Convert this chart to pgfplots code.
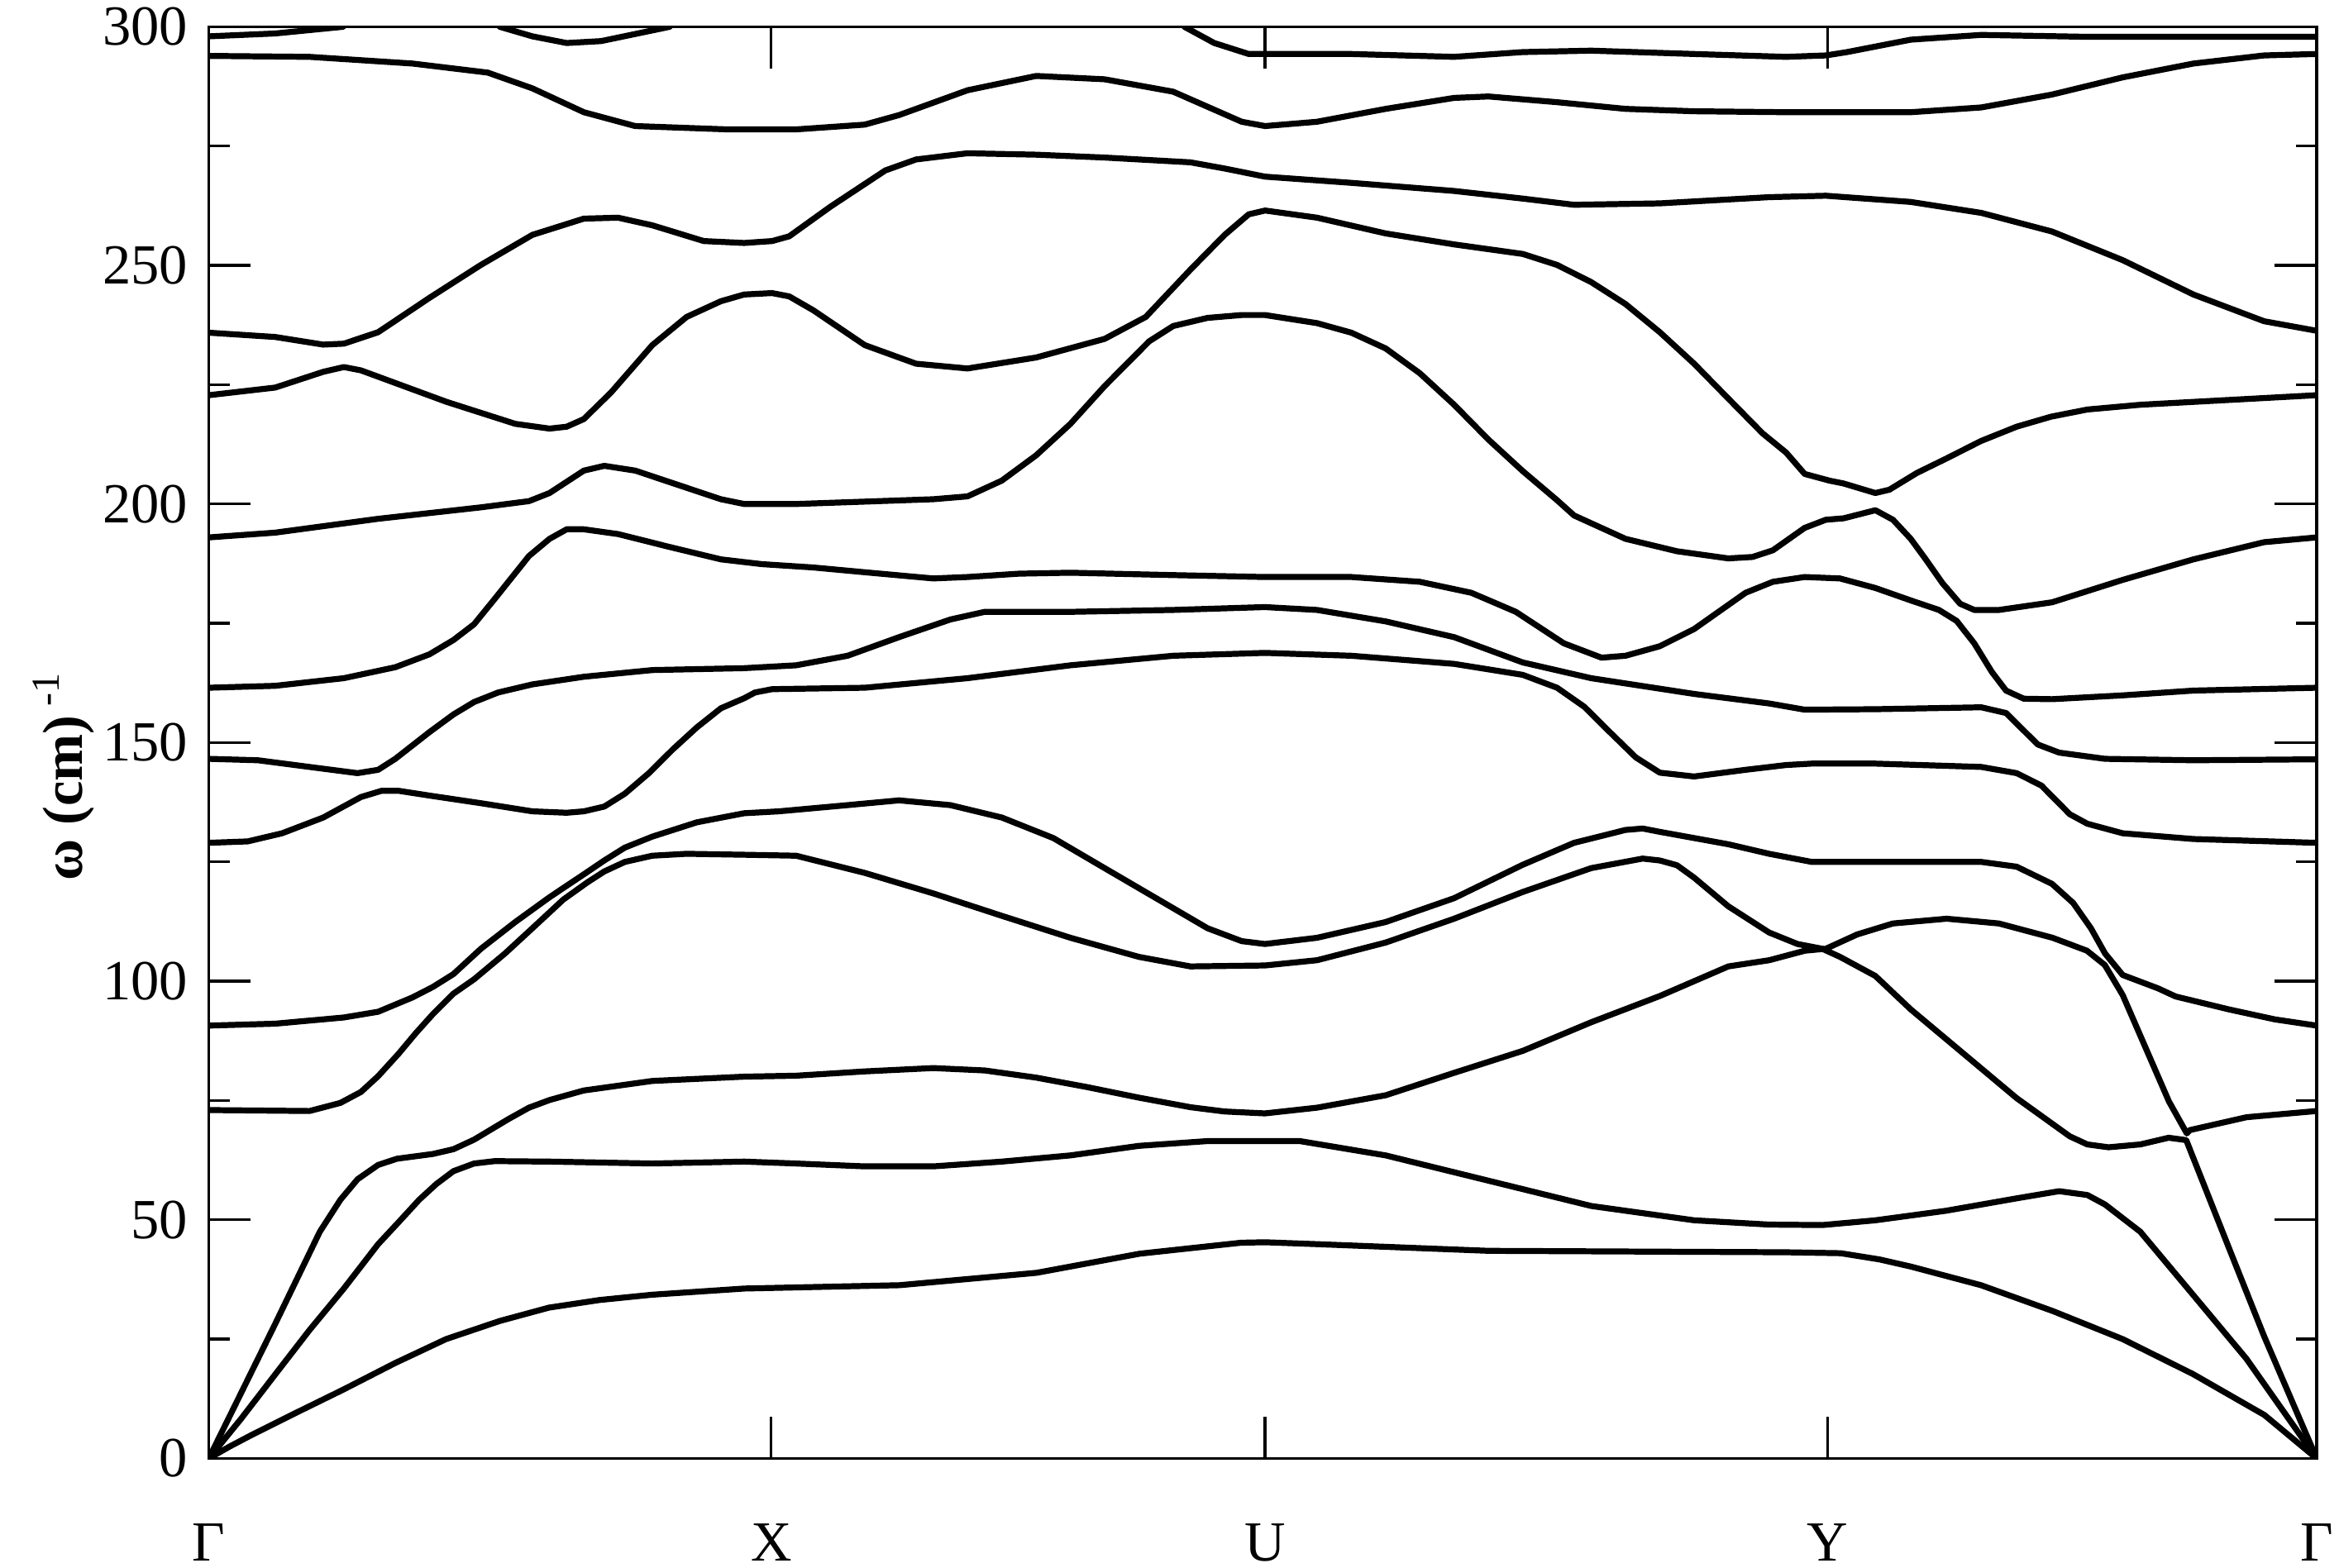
\documentclass[border=0pt]{standalone}
\usepackage{fontspec}
\setmainfont{Liberation Serif}
\usepackage{pgfplots}
\pgfplotsset{compat=1.18}
\begin{document}
\begin{tikzpicture}
\begin{axis}[name=ax,
  scale only axis, width=353.25pt, height=240pt,
  xmin=0, xmax=1413, ymin=0, ymax=300,
  axis line style={line width=0.45pt},
  xtick={0,377,708,1085,1413}, xticklabels={Γ,X,U,Y,Γ},
  ytick={0,50,...,300}, minor y tick num=1,
  tick align=inside, major tick length=7pt, minor tick length=3.5pt,
  every tick/.style={black, line width=0.45pt},
  /pgf/number format/assume math mode=true,
  tick label style={font=\fontsize{9.5}{11}\selectfont},
  xticklabel style={yshift=-7.5pt},
  ylabel={\textbf{ω (cm)}\,\textsuperscript{-1}},
  every axis y label/.style={at={(axis description cs:-0.069,0.477)}, anchor=center, rotate=90, font=\fontsize{9.5}{11}\selectfont},
  cycle list={{black, solid, mark=none}},
  every axis plot post/.append style={black, solid, line width=1pt, mark=none, line join=round, line cap=round},
]
% A
\addplot coordinates {(0,0) (14,2.5) (28,4.8) (60,9.8) (90,14.4) (125,20) (159,25) (195,28.8) (228,31.6) (262,33.2) (297,34.3) (359,35.6) (463,36.3) (555,38.9) (624,42.9) (692,45.2) (708,45.3) (743,44.9) (858,43.5) (1057,43.2) (1094,43) (1120,41.7) (1141,40.2) (1188,36.3) (1236,30.9) (1283,25) (1330,17.7) (1378,9.1) (1413,0)};
% B + D
\addplot coordinates {(0,0) (44.5,28.2) (74.4,47.5) (88.2,54.2) (99.7,58.5) (113.5,61.5) (126.1,62.8) (150.2,63.8) (164,64.8) (177.8,66.8) (200.8,71.1) (214.6,73.5) (228.4,75.1) (251.3,77.1) (297.3,79.1) (358.9,80.0) (393.7,80.2) (439.7,81.1) (485.6,81.8) (520.1,81.3) (554.6,79.8) (589,77.8) (623.5,75.6) (658,73.6) (680.9,72.7) (708,72.3) (742.9,73.5) (788.9,76.1) (834.8,80.8) (880.8,85.4) (926.7,91.4) (972.7,96.9) (1018.6,103.1) (1046,104.4) (1070,106.4) (1084,106.8) (1105,109.8) (1129,112.1) (1165,113.1) (1200,112.1) (1236,109.1) (1259,106.4) (1271,103.4) (1283,97.1) (1314,74.8) (1326,68.1) (1328,68.8) (1366,71.5) (1413,72.8)};
% C
\addplot coordinates {(0,0) (21.6,8.3) (44.5,17.6) (67.5,26.9) (90.5,35.6) (113.5,44.9) (127.2,49.5) (141,54.2) (152.5,57.5) (164,60.2) (177.8,61.8) (191.6,62.3) (228.4,62.2) (297.3,61.8) (358.9,62.2) (393.7,61.8) (439.7,61.2) (485.6,61.2) (531.6,62.2) (577.6,63.5) (623.5,65.5) (669.5,66.5) (708,66.5) (731.4,66.5) (788.9,63.5) (857.8,58.2) (926.7,52.9) (995.7,49.9) (1046,49.0) (1081.6,48.9) (1117.2,49.9) (1164.6,51.9) (1211.9,54.5) (1240.4,56.0) (1259.3,55.2) (1271.2,53.2) (1294.8,47.5) (1330.4,34.2) (1365.9,20.9) (1413,0)};
% H + E
\addplot coordinates {(0,73) (67.5,72.8) (88.2,74.5) (102,76.8) (113.5,80.1) (127.2,84.8) (138.7,89.1) (150.2,93.1) (164,97.4) (177.8,100.4) (198.5,105.8) (216.9,111.1) (237.6,117.1) (253.7,120.7) (265.1,123.0) (278.9,125.0) (297.3,126.3) (320.3,126.7) (358.9,126.5) (393.7,126.3) (439.7,122.7) (485.6,118.4) (531.6,113.7) (577.6,109.1) (623.5,105.1) (658,103.1) (708,103.3) (742.9,104.4) (788.9,108.1) (834.8,113.1) (880.8,118.7) (926.7,123.7) (961.2,125.7) (972.7,125.3) (984.2,124.3) (995.7,121.7) (1018.6,115.7) (1046,110.2) (1065,107.8) (1081.6,106.8) (1093.5,105.1) (1117.2,101.1) (1140.9,94.1) (1176.4,84.8) (1211.9,75.5) (1247.5,67.5) (1259.3,65.8) (1273.5,65.2) (1294.8,65.8) (1313.8,67.2) (1325.6,66.7) (1354.1,44.2) (1377.8,25.6) (1413,0)};
% G
\addplot coordinates {(0,90.7) (44.5,91.1) (90.5,92.4) (113.5,93.6) (136.5,96.6) (150.2,98.8) (164,101.5) (182.4,106.8) (205.4,112.4) (228.4,117.6) (251.4,122.4) (265.1,125.3) (278.9,128.0) (297.3,130.3) (327.2,133.3) (358.9,135.2) (382.2,135.6) (428.2,136.9) (462.7,137.9) (497.1,136.9) (531.6,134.3) (566.1,130.0) (600.5,123.7) (635,117.4) (669.5,111.1) (692.4,108.4) (708,107.8) (742.9,109.1) (788.9,112.4) (834.8,117.4) (880.8,124.4) (915.2,129.0) (949.7,131.7) (961.2,132.0) (972.7,131.3) (1018.6,128.7) (1046,126.7) (1074.5,125.0) (1117.2,125.0) (1188.2,125.0) (1211.9,124.0) (1235.6,120.4) (1249.8,116.4) (1261.7,111.1) (1271.2,105.8) (1283,101.3) (1306.7,98.5) (1318.5,96.8) (1354.1,94.1) (1385,92) (1413,90.7)};
% I
\addplot coordinates {(0,129) (26.1,129.3) (49.1,131.0) (76.7,134.3) (102,138.6) (115.8,139.9) (127.2,139.9) (147.9,138.9) (182.4,137.3) (216.9,135.6) (239.9,135.3) (251.4,135.6) (265.1,136.6) (278.9,139.3) (295,143.6) (311.1,148.6) (327.2,153.2) (343.3,157.2) (358.9,159.3) (366.1,160.5) (377.6,161.2) (439.7,161.5) (508.6,163.5) (577.6,166.2) (646.5,168.2) (708,168.8) (765.9,168.2) (834.8,166.5) (880.8,164.2) (903.8,161.5) (922.1,157.5) (938.2,152.5) (956.6,146.9) (972.7,143.7) (995.7,142.9) (1030.2,144.3) (1057.3,145.3) (1074.5,145.6) (1117.2,145.6) (1188.2,144.9) (1211.9,143.6) (1228.5,141.0) (1247.5,135.0) (1259.3,133.0) (1283,131.0) (1330.4,129.8) (1413,129.0)};
% J
\addplot coordinates {(0,146.6) (33,146.3) (67.5,144.9) (99.7,143.6) (113.5,144.3) (125,146.6) (147.9,152.2) (164,155.9) (177.8,158.5) (193.9,160.5) (216.9,162.2) (251.4,163.8) (297.3,165.2) (358.9,165.6) (393.7,166.2) (428.2,168.2) (462.7,172.1) (497.1,175.8) (520.1,177.4) (577.6,177.4) (646.5,177.8) (708,178.4) (742.9,177.8) (788.9,175.4) (834.8,172.1) (880.8,166.8) (926.7,163.5) (995.7,160.2) (1046,158.2) (1069.8,156.9) (1117.2,157.0) (1188.2,157.4) (1204.8,156.2) (1226.1,149.6) (1240.4,147.9) (1271.2,146.6) (1330.4,146.3) (1413,146.5)};
% K
\addplot coordinates {(0,161.5) (44.5,161.9) (90.5,163.5) (125,165.8) (147.9,168.5) (164,171.5) (177.8,174.8) (191.6,180.1) (214.6,189.1) (228.4,192.7) (239.9,194.7) (251.4,194.7) (274.3,193.7) (308.8,191.0) (343.3,188.4) (370.7,187.4) (405.2,186.7) (439.7,185.7) (485.6,184.4) (508.6,184.7) (543.1,185.4) (577.6,185.6) (646.5,185.1) (708,184.7) (765.9,184.7) (811.8,183.7) (846.3,181.4) (876.2,177.4) (908.4,170.8) (933.6,167.8) (949.7,168.2) (972.7,170.2) (995.7,173.8) (1030.2,181.4) (1048.5,183.7) (1069.8,184.7) (1093.5,184.4) (1117.2,182.4) (1140.9,179.8) (1159.8,177.8) (1171.7,175.5) (1183.5,170.8) (1195.3,164.8) (1204.8,160.9) (1216.7,159.2) (1235.6,159.1) (1283,159.9) (1330.4,160.9) (1413,161.5)};
% L
\addplot coordinates {(0,193.0) (44.5,194.0) (113.5,196.9) (182.4,199.3) (214.6,200.6) (228.4,202.3) (251.4,207.0) (265.1,208.0) (285.8,207.0) (343.3,201.0) (358.9,200.0) (393.7,200.0) (439.7,200.5) (485.6,201.0) (508.6,201.6) (531.6,204.9) (554.6,210.2) (577.6,216.8) (600.5,224.7) (630.4,234.1) (646.5,237.3) (669.5,239.0) (692.4,239.6) (708,239.6) (742.9,237.9) (765.9,235.9) (788.9,232.6) (811.8,227.4) (834.8,220.8) (857.8,213.5) (880.8,206.9) (903.8,200.8) (915.2,197.6) (949.7,192.7) (984.2,190.1) (1018.6,188.6) (1034.8,188.9) (1048.5,190.3) (1069.8,195.0) (1084,196.7) (1095.9,197.0) (1117.2,198.7) (1129,196.7) (1140.9,192.7) (1150.3,188.7) (1162.2,183.4) (1174,179.1) (1183.5,177.8) (1200.1,177.8) (1235.6,179.4) (1283,184.1) (1330.4,188.4) (1377.8,192.0) (1413,193.0)};
% O
\addplot coordinates {(0,222.8) (44.5,224.4) (76.7,227.7) (90.5,228.7) (102,228.0) (159.4,221.4) (205.4,216.8) (228.4,215.8) (239.9,216.2) (251.4,217.8) (269.7,223.4) (297.3,233.3) (320.3,239.2) (343.3,242.5) (358.9,243.9) (377.6,244.2) (389.1,243.5) (405.2,240.6) (439.7,233.3) (474.1,229.4) (508.6,228.4) (554.6,230.7) (600.5,234.6) (628.1,239.2) (658,249.1) (681,256.4) (697.1,260.7) (708.1,261.5) (742.9,260.0) (788.9,256.7) (834.8,254.4) (880.8,252.4) (903.8,250.1) (926.7,246.5) (949.7,241.9) (972.7,236.0) (995.7,229.4) (1018.6,222.1) (1041.6,214.8) (1057.3,210.8) (1069.8,206.3) (1086.4,204.9) (1095.9,204.3) (1117.2,202.3) (1126.6,203.0) (1145,206.5) (1164.6,209.5) (1188,213.2) (1211.9,216.2) (1235,218.3) (1259.3,219.8) (1295,220.8) (1330.4,221.4) (1413,222.8)};
% N
\addplot coordinates {(0,235.9) (44.5,235.0) (76.7,233.4) (90.5,233.6) (113.5,236.0) (147.9,243.2) (182.4,250.1) (216.9,256.4) (251.4,259.8) (274.3,260.0) (297.3,258.4) (331.8,255.1) (358.9,254.7) (377.6,255.1) (389.1,256.1) (416.7,262.3) (453.5,269.9) (474.1,272.2) (508.6,273.5) (554.6,273.2) (600.5,272.6) (658,271.6) (681,270.3) (708,268.6) (765.9,267.3) (834.8,265.6) (880.8,264.0) (915.2,262.7) (972.7,263.0) (1046,264.3) (1084,264.6) (1140.9,263.3) (1188.2,261.0) (1235.6,257.1) (1283,251.1) (1330.4,243.9) (1377.8,238.3) (1413,236.3)};
% M
\addplot coordinates {(0,293.9) (67.5,293.7) (136.5,292.3) (187,290.4) (216.9,287.1) (251.4,282.1) (285.8,279.2) (347.75,278.5) (393.7,278.5) (439.7,279.5) (462.7,281.5) (508.6,286.7) (554.6,289.7) (600.5,289.0) (646.5,286.4) (692.4,280.1) (708.1,279.2) (742.9,280.1) (788.9,282.8) (834.8,285.1) (857.8,285.4) (903.8,284.2) (949.7,282.8) (995.7,282.3) (1057.3,282.1) (1140.9,282.1) (1188.2,283.1) (1235.6,285.8) (1283,289.4) (1330.4,292.3) (1377.8,294.0) (1413,294.3)};
% P
\addplot coordinates {(0,298.0) (44.5,298.6) (90,300)};
% Q
\addplot coordinates {(195,300) (216.9,298.0) (239.9,296.6) (262.9,297.0) (309,300)};
% R
\addplot coordinates {(654,300) (674,296.6) (697.1,294.3) (708.1,294.3) (765.9,294.3) (834.8,293.7) (880.8,294.7) (926.7,295.0) (995.7,294.3) (1057.3,293.7) (1084,294.0) (1098.2,294.7) (1140.9,297.3) (1188.2,298.3) (1259.3,297.9) (1413,297.9)};
\end{axis}
\pgfresetboundingbox
\path ([xshift=-35pt,yshift=-18.25pt]ax.south west) rectangle ([xshift=3.75pt,yshift=4.5pt]ax.north east);
\end{tikzpicture}
\end{document}
